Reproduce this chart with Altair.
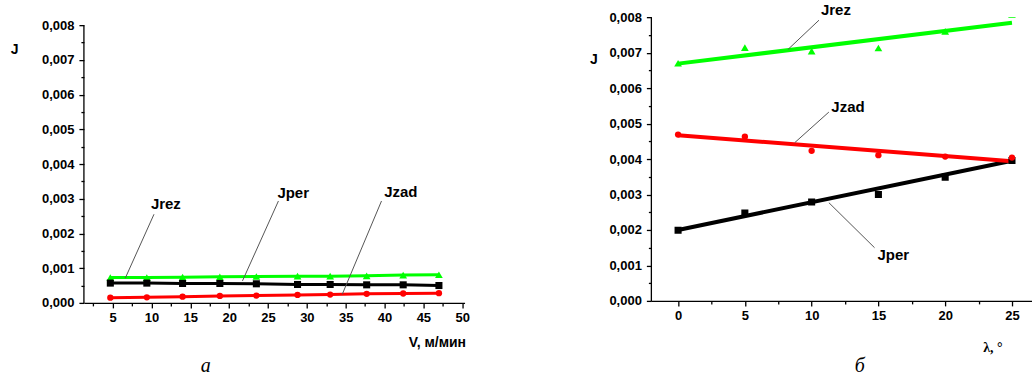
import altair as alt
import pandas as pd

# ---------------- panel a: J vs V ----------------
v_speed = [4.7, 9.4, 14.0, 18.8, 23.5, 28.8, 33.0, 37.7, 42.4, 47.0]
a_jrez = [0.00073, 0.00073, 0.00074, 0.00075, 0.00076, 0.00077, 0.00077, 0.00078, 0.00080, 0.00081]
a_jper = [0.00057, 0.00057, 0.00056, 0.00056, 0.00055, 0.00053, 0.00053, 0.00052, 0.00052, 0.00050]
a_jzad = [0.00015, 0.00016, 0.00018, 0.00020, 0.00021, 0.00023, 0.00024, 0.00026, 0.00027, 0.00028]

# ---------------- panel b: J vs lambda ----------------
lam = [0, 5, 10, 15, 20, 25]
b_jrez = [0.00670, 0.00714, 0.00704, 0.00713, 0.00760, 0.00807]
b_jper = [0.00199, 0.00248, 0.00279, 0.00300, 0.00349, 0.00396]
b_jzad = [0.00469, 0.00463, 0.00423, 0.00411, 0.00407, 0.00404]
fit_lam = [0, 25]
fit_jrez = [0.00669, 0.00784]
fit_jper = [0.00200, 0.00395]
fit_jzad = [0.00467, 0.00394]

series = ["Jrez", "Jper", "Jzad"]
colors = ["#00ff00", "#000000", "#ff0000"]
shapes = ["triangle-up", "square", "circle"]

# callout labels and leader lines (order: Jrez, Jper, Jzad)
a_lab_x = [11.85, 28.24, 42.1]
a_lab_y = [0.00285, 0.003165, 0.00318]
a_lead_x1 = [10.32, 26.34, 39.61]
a_lead_y1 = [0.002553, 0.002935, 0.002935]
a_lead_x2 = [6.62, 21.71, 34.56]
a_lead_y2 = [0.000711, 0.000633, 0.00025]

b_lab_x = [11.82, 16.11, 12.72]
b_lab_y = [0.008192, 0.00129, 0.00547]
b_lead_x1 = [10.55, 14.71, 11.29]
b_lead_y1 = [0.007915, 0.0015, 0.005324]
b_lead_x2 = [8.23, 11.29, 8.73]
b_lead_y2 = [0.00709, 0.002769, 0.00446]

y_major = [0.0, 0.001, 0.002, 0.003, 0.004, 0.005, 0.006, 0.007, 0.008]
y_minor = [0.0005, 0.0015, 0.0025, 0.0035, 0.0045, 0.0055, 0.0065, 0.0075]
y_axis_span = [0.0, 0.008]
a_x_major = [5, 10, 15, 20, 25, 30, 35, 40, 45, 50]
a_x_minor = [2.5, 7.5, 12.5, 17.5, 22.5, 27.5, 32.5, 37.5, 42.5, 47.5]
b_x_major = [0, 5, 10, 15, 20, 25]
b_x_minor = [2.5, 7.5, 12.5, 17.5, 22.5]

Y_LABEL_EXPR = "replace(format(datum.value, '.3f'), '.', ',')"
SANS = "Liberation Sans"
SERIF = "Liberation Serif"


def long_df(x, cols):
    rows = []
    for name, vals in zip(series, cols):
        for xi, yi in zip(x, vals):
            rows.append({"x": xi, "j": yi, "s": name})
    return pd.DataFrame(rows)


def panel(pts, fit, labx, laby, lx1, ly1, lx2, ly2, xdom, ytop, w, h, xmaj, xmin,
          xtitle, xt_x, xt_y, xt_align, xt_font, yt_x, yt_y, sizes, line_w,
          clip_pts, dummies, caption, cap_xy):
    xs = alt.Scale(domain=xdom, nice=False, zero=False)
    ys = alt.Scale(domain=[0, ytop], nice=False, zero=False)
    cscale = alt.Scale(domain=series, range=colors)
    sscale = alt.Scale(domain=series, range=shapes)
    zscale = alt.Scale(domain=series, range=sizes)

    x_main = alt.X("x:Q", scale=xs, axis=alt.Axis(
        values=xmaj, format="d", orient="bottom", tickSize=5, labelPadding=4,
        title=xtitle, titleX=xt_x, titleY=xt_y, titleAlign=xt_align,
        titleBaseline="middle", titleFont=xt_font, titleFontSize=14,
        titleFontWeight="bold", titleColor="black"))
    y_main = alt.Y("j:Q", scale=ys, axis=alt.Axis(
        values=y_major, labelExpr=Y_LABEL_EXPR, orient="left", tickSize=5,
        labelPadding=5, domain=False, title="J", titleAngle=0, titleX=yt_x,
        titleY=yt_y, titleAlign="left", titleBaseline="middle", titleFont=SANS,
        titleFontSize=14, titleFontWeight="bold", titleColor="black"))

    line = alt.Chart(fit).mark_line(strokeWidth=line_w).encode(
        x=x_main, y=y_main,
        color=alt.Color("s:N", scale=cscale, legend=None),
        detail="s:N")

    points = alt.Chart(pts).mark_point(filled=True, opacity=1, clip=clip_pts).encode(
        x=alt.X("x:Q", scale=xs, axis=None),
        y=alt.Y("j:Q", scale=ys, axis=None),
        color=alt.Color("s:N", scale=cscale, legend=None),
        shape=alt.Shape("s:N", scale=sscale, legend=None),
        size=alt.Size("s:N", scale=zscale, legend=None))

    minor = alt.Chart(pts).mark_point(opacity=0).encode(
        x=alt.X("x:Q", scale=xs, axis=alt.Axis(
            values=xmin, orient="bottom", labels=False, domain=False,
            tickSize=3, title=None, grid=False)),
        y=alt.Y("j:Q", scale=ys, axis=alt.Axis(
            values=y_minor, orient="left", labels=False, domain=False,
            tickSize=3, title=None, grid=False)))

    # y axis line drawn from 0 to 0.008 only
    span_df = pd.DataFrame({"j": [y_axis_span[0]], "j2": [y_axis_span[1]]})
    yline = alt.Chart(span_df).mark_rule(color="black", strokeWidth=1.3).encode(
        x=alt.value(0),
        y=alt.Y("j:Q", scale=ys, axis=None), y2="j2:Q")

    lead_df = pd.DataFrame({"x": lx1, "j": ly1, "x2": lx2, "j2": ly2})
    leaders = alt.Chart(lead_df).mark_rule(color="#555555", strokeWidth=1).encode(
        x=alt.X("x:Q", scale=xs, axis=None),
        y=alt.Y("j:Q", scale=ys, axis=None),
        x2="x2:Q", y2="j2:Q")

    lab_df = pd.DataFrame({"x": labx, "j": laby, "t": series})
    labels = alt.Chart(lab_df).mark_text(
        font=SANS, fontWeight="bold", fontSize=15, color="black",
        align="center", baseline="middle").encode(
        x=alt.X("x:Q", scale=xs, axis=None),
        y=alt.Y("j:Q", scale=ys, axis=None),
        text="t:N")

    one = pd.DataFrame({"d": [0]})
    extra = []
    for dx, dy in dummies:
        extra.append(alt.Chart(one).mark_text(text=".", fontSize=1, opacity=0).encode(
            x=alt.value(dx), y=alt.value(dy)))
    cap = alt.Chart(one).mark_text(
        text=caption, font=SERIF, fontStyle="italic", fontSize=20,
        color="black", align="center", baseline="middle").encode(
        x=alt.value(cap_xy[0]), y=alt.value(cap_xy[1]))

    layers = [line, points, minor, yline, leaders, labels, cap] + extra
    return alt.layer(*layers).resolve_axis(x="independent", y="independent").properties(
        width=w, height=h)


df_a = long_df(v_speed, [a_jrez, a_jper, a_jzad])
df_b = long_df(lam, [b_jrez, b_jper, b_jzad])
df_bfit = long_df(fit_lam, [fit_jrez, fit_jper, fit_jzad])

# left plot: 0.008 sits 8 px below the shared top edge (286 px tall, 278 px for 0..0.008)
left = panel(df_a, df_a, a_lab_x, a_lab_y, a_lead_x1, a_lead_y1, a_lead_x2, a_lead_y2,
             [1.3, 50.3], 0.008 * 286 / 278, 381, 286, a_x_major, a_x_minor,
             "V, м/мин", 382, 40, "right", SANS, -73.7, 32,
             [60, 40, 45], 3, False,
             [(-83, -16)], "а", (122, 349))

right = panel(df_b, df_bfit, b_lab_x, b_lab_y, b_lead_x1, b_lead_y1, b_lead_x2, b_lead_y2,
              [-2, 26.5], 0.008, 381, 284, b_x_major, b_x_minor,
              "λ, °", 331.7, 47, "left", SERIF, -62, 42.3,
              [100, 45, 55], 4, True,
              [], "б", (208.7, 349))

chart = alt.hconcat(left, right, spacing=187, bounds="flush").properties(
    padding={"left": 0, "top": 0, "right": 0, "bottom": 0}
).configure_view(stroke=None).configure_axis(
    labelFont=SANS, labelFontWeight="bold", labelFontSize=13, labelColor="black",
    domainColor="black", tickColor="black", domainWidth=1.3, tickWidth=1.3,
    grid=False)

chart.save("out.html", embed_options={"renderer": "svg", "actions": False})
